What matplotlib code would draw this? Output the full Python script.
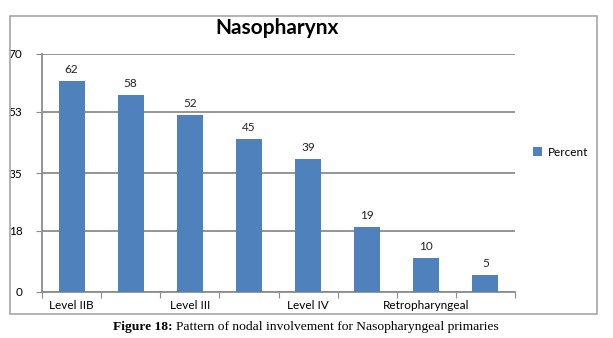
import matplotlib
matplotlib.use("Agg")
import matplotlib.pyplot as plt
from matplotlib.patches import Rectangle
import numpy as np

# data
levels = ['Level IIB', '', 'Level III', '', 'Level IV', '', 'Retropharyngeal', '']
percent = [62, 58, 52, 45, 39, 19, 10, 5]
yticks = [0, 18, 35, 53, 70]

bar_color = '#4F81BD'
grid_color = '#8C8C8C'

plt.rcParams['font.family'] = ['Lato', 'DejaVu Sans']

fig = plt.figure(figsize=(6.13, 3.38), dpi=100)

# outer chart frame
fig.patches.append(Rectangle((10 / 613, 1 - 314 / 338), 587 / 613, 298 / 338,
                             transform=fig.transFigure, fill=False,
                             edgecolor='#A6A6A6', linewidth=1.2))

ax = fig.add_axes([42 / 613, 1 - 292 / 338, 473 / 613, 238 / 338])
x = np.arange(len(percent))
bars = ax.bar(x, percent, width=0.44, color=bar_color, zorder=3, label='Percent')

for xi, v in zip(x, percent):
    ax.text(xi, v + 1.8, str(v), ha='center', va='bottom', fontsize=8.5, color='#222222')

ax.set_xlim(-0.5, len(percent) - 0.5)
ax.set_ylim(0, 70)
ax.set_yticks(yticks)
ax.set_yticklabels([str(t) for t in yticks], fontsize=8.5)
ax.tick_params(axis='y', length=4, color=grid_color, pad=10)
ax.yaxis.grid(True, color=grid_color, linewidth=1.3, zorder=0)

# ticks at category boundaries, labels under every other bar
ax.set_xticks(np.arange(len(percent) + 1) - 0.5)
ax.set_xticklabels([])
ax.set_xticks(x, minor=True)
ax.set_xticklabels(levels, minor=True, fontsize=8.5)
ax.tick_params(axis='x', which='major', length=4, color=grid_color)
ax.tick_params(axis='x', which='minor', length=0, pad=6)

for s in ['top', 'right']:
    ax.spines[s].set_visible(False)
for s in ['left', 'bottom']:
    ax.spines[s].set_color(grid_color)
    ax.spines[s].set_linewidth(1.3)

fig.text(277 / 613, 1 - 28 / 338, 'Nasopharynx', ha='center', va='center',
         fontsize=15, fontweight='bold')

fig.legend(handles=[bars], labels=['Percent'], loc='center left',
           bbox_to_anchor=(522 / 613, 1 - 152 / 338), frameon=False,
           fontsize=8.5, handlelength=0.8, handleheight=0.8, handletextpad=0.5)

fig.text(173 / 613, 1 - 327 / 338, 'Figure 18:', ha='right', va='center',
         fontsize=9.7, fontweight='bold', family='Liberation Serif')
fig.text(176 / 613, 1 - 327 / 338, 'Pattern of nodal involvement for Nasopharyngeal primaries',
         ha='left', va='center', fontsize=9.7, family='Liberation Serif')

fig.savefig('out.png', dpi=100)
